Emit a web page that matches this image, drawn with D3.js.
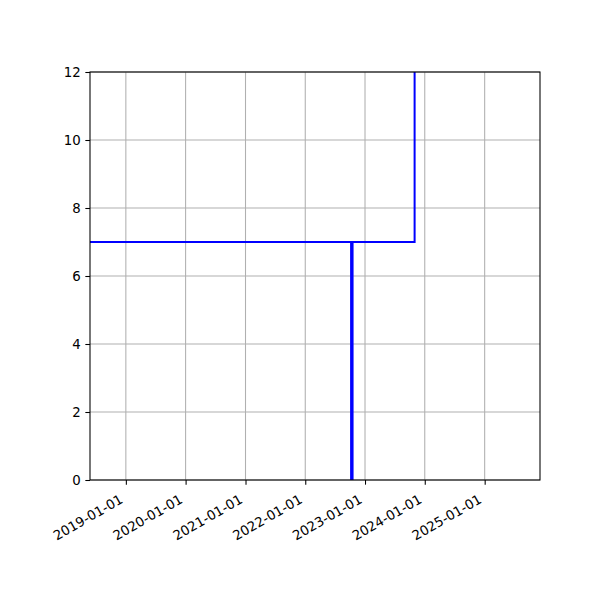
<!DOCTYPE html>
<html>
<head>
<meta charset="utf-8">
<script src="https://cdn.jsdelivr.net/npm/d3@7"></script>
<style>
  body { margin: 0; background: #fff; }
  svg { display: block; }
  text { font-family: "DejaVu Sans", sans-serif; font-size: 13.33px; fill: #000; }
</style>
</head>
<body>
<div class="container"></div>
<script>
const width = 600;
const height = 600;
const margin = { top: 72, right: 60, bottom: 120, left: 90 };

// data
const xRange = ['2018-05-27', '2025-12-05'];
const yRange = [0, 12];
const yTicks = [0, 2, 4, 6, 8, 10, 12];
const xTickDates = ['2019-01-01', '2020-01-01', '2021-01-01', '2022-01-01', '2023-01-01', '2024-01-01', '2025-01-01'];

// upper step line
const upperDates = ['2018-05-27', '2023-10-31', '2023-10-31'];
const upperValues = [7, 7, 13];

// lower drop line (two close verticals that read as one thick line)
const lowerDates = ['2022-10-08', '2022-10-08', '2022-10-17', '2022-10-17'];
const lowerValues = [0, 7, 7, 0];

const parse = d3.utcParse('%Y-%m-%d');
const fmt = d3.utcFormat('%Y-%m-%d');

function toPoints(dates, values) {
    return dates.map((d, i) => ({ date: parse(d), val: values[i] }));
}

const innerW = width - margin.left - margin.right;
const innerH = height - margin.top - margin.bottom;

const x = d3.scaleUtc().domain(xRange.map(parse)).range([margin.left, margin.left + innerW]);
const y = d3.scaleLinear().domain(yRange).range([margin.top + innerH, margin.top]);

const svg = d3.select('.container')
    .append('svg')
    .attr('width', width)
    .attr('height', height);

svg.append('defs').append('clipPath').attr('id', 'clip')
    .append('rect')
    .attr('x', margin.left).attr('y', margin.top)
    .attr('width', innerW).attr('height', innerH);

// grid
const grid = svg.append('g').attr('stroke', '#b0b0b0').attr('stroke-width', 1.07);
grid.selectAll('.vgrid')
    .data(xTickDates.map(parse))
    .enter().append('line')
    .attr('x1', d => x(d)).attr('x2', d => x(d))
    .attr('y1', margin.top).attr('y2', margin.top + innerH);
grid.selectAll('.hgrid')
    .data(yTicks)
    .enter().append('line')
    .attr('x1', margin.left).attr('x2', margin.left + innerW)
    .attr('y1', d => y(d)).attr('y2', d => y(d));

// lines
const line = d3.line().x(d => x(d.date)).y(d => y(d.val));
const plot = svg.append('g').attr('clip-path', 'url(#clip)');
[toPoints(upperDates, upperValues), toPoints(lowerDates, lowerValues)].forEach(pts => {
    plot.append('path')
        .datum(pts)
        .attr('fill', 'none')
        .attr('stroke', '#0000ff')
        .attr('stroke-width', 2)
        .attr('stroke-linejoin', 'miter')
        .attr('stroke-linecap', 'butt')
        .attr('d', line);
});

// axes
const xAxis = d3.axisBottom(x)
    .tickValues(xTickDates.map(parse))
    .tickSize(4.67)
    .tickPadding(4.67)
    .tickFormat(fmt);
const gx = svg.append('g')
    .attr('transform', `translate(0,${margin.top + innerH})`)
    .call(xAxis);
gx.select('.domain').remove();
gx.selectAll('.tick line').attr('stroke', '#000').attr('stroke-width', 1.07);
gx.selectAll('.tick text')
    .attr('y', 0).attr('dy', 0)
    .attr('text-anchor', 'end')
    .attr('transform', 'translate(-2.5,22) rotate(-30)')
    .style('font-size', '13.33px')
    .style('font-family', '"DejaVu Sans", sans-serif');

const yAxis = d3.axisLeft(y)
    .tickValues(yTicks)
    .tickSize(4.67)
    .tickPadding(4.67)
    .tickFormat(d3.format('d'));
const gy = svg.append('g')
    .attr('transform', `translate(${margin.left},0)`)
    .call(yAxis);
gy.select('.domain').remove();
gy.selectAll('.tick line').attr('stroke', '#000').attr('stroke-width', 1.07);
gy.selectAll('.tick text')
    .style('font-size', '13.33px')
    .style('font-family', '"DejaVu Sans", sans-serif');

// spines
svg.append('rect')
    .attr('x', margin.left).attr('y', margin.top)
    .attr('width', innerW).attr('height', innerH)
    .attr('fill', 'none')
    .attr('stroke', '#000')
    .attr('stroke-width', 1.07);
</script>
</body>
</html>
